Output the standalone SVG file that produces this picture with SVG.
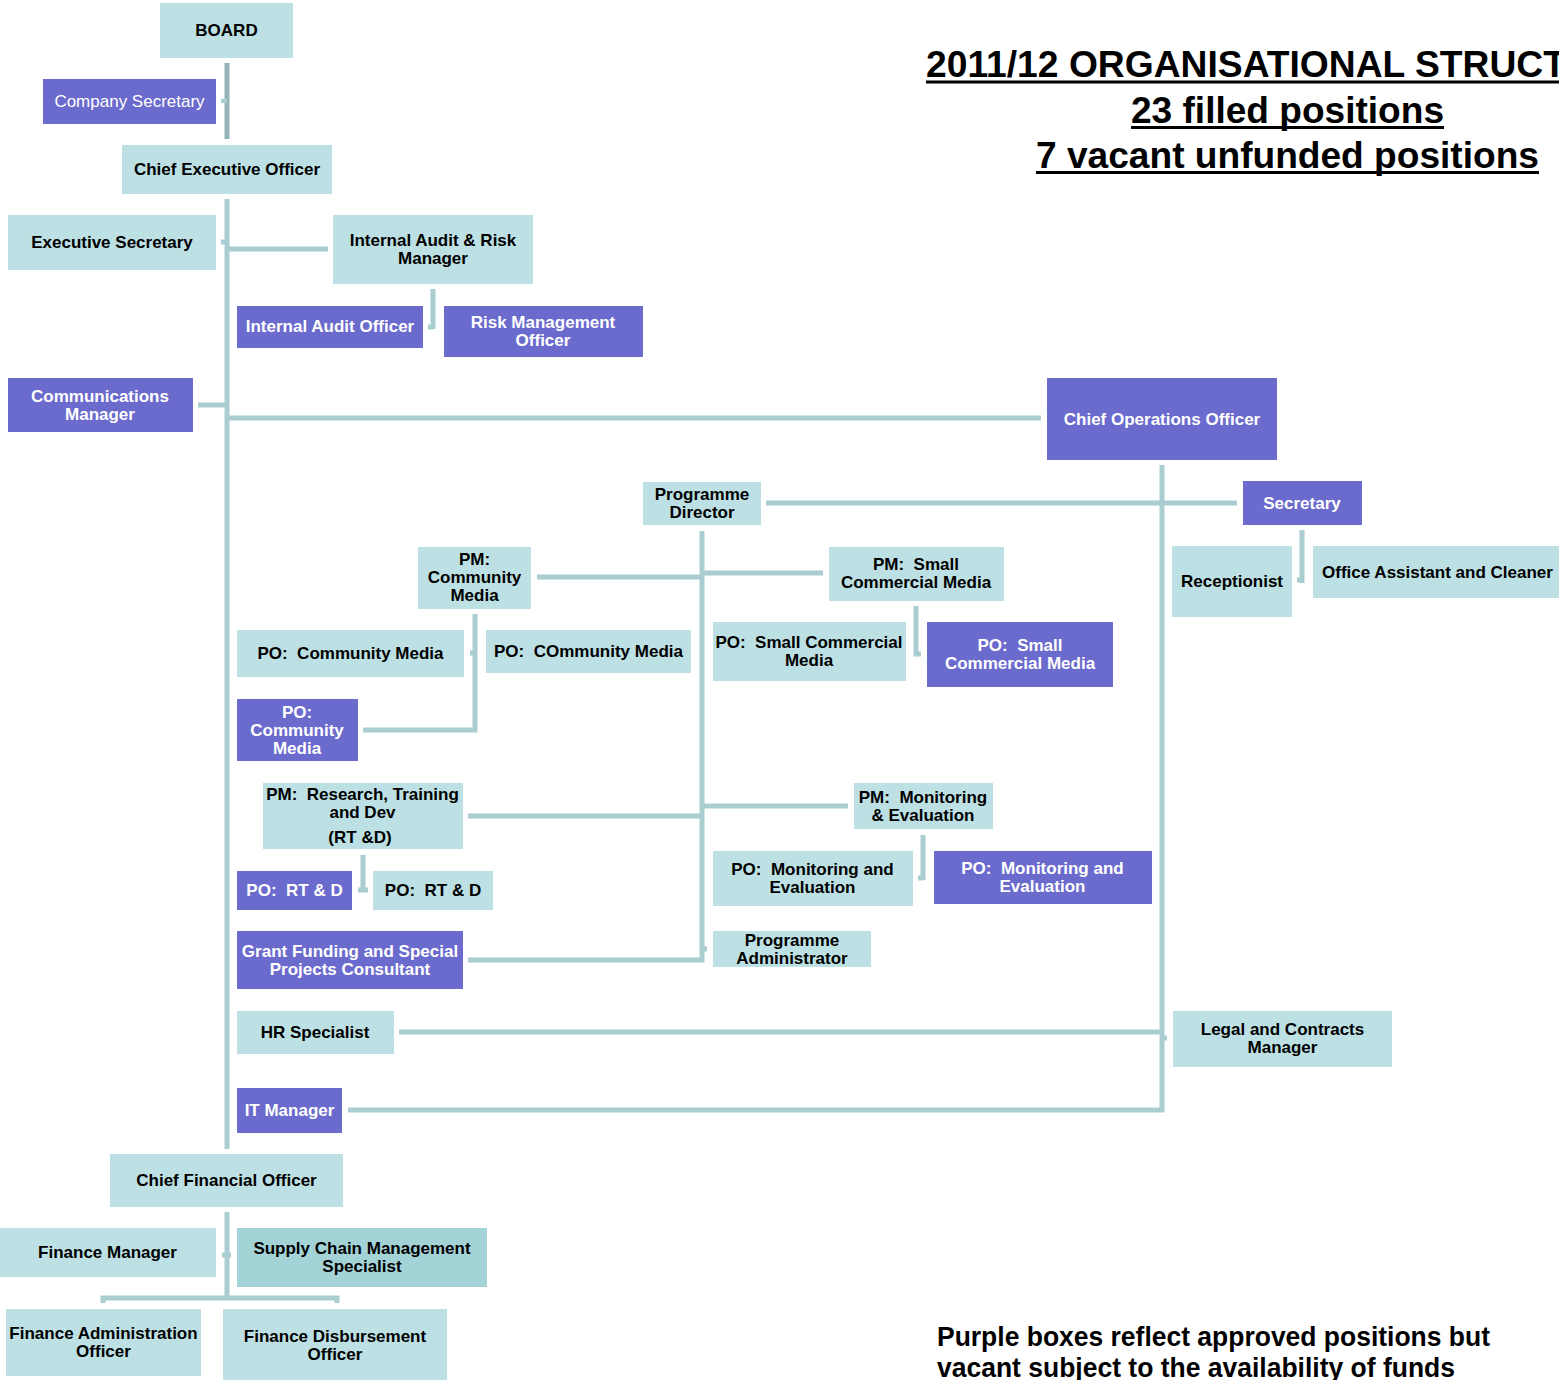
<svg xmlns="http://www.w3.org/2000/svg" width="1559" height="1380" viewBox="0 0 1559 1380">
<style>
.t{fill:#BCE0E3}
.p{fill:#6B6ACD}
.s{fill:#A3D3D7}
text{font-family:"Liberation Sans",Arial,sans-serif;font-weight:bold;font-size:17px;text-anchor:middle;white-space:pre}
.w{fill:#fff}
.k{fill:#000}
.reg{font-weight:normal}
.c{stroke:#A9CDD0;stroke-width:5;fill:none}
.h{font-family:"Liberation Sans Narrow","Liberation Sans",Arial,sans-serif;text-anchor:start;fill:#000}
.h1{font-size:37px}
.h2{font-size:27px}
</style>
<rect width="1559" height="1380" fill="#fff"/>
<g id="connectors">
<line x1="227" y1="63" x2="227" y2="139" stroke="#93B3B6" stroke-width="5"/>
<line x1="221" y1="101" x2="227" y2="101" stroke="#A9CDD0" stroke-width="4"/>
<path class="c" d="M227,199V1149"/>
<path class="c" d="M221,242H227"/>
<path class="c" d="M227,249H328"/>
<path class="c" d="M433,289V329M433,327H428"/>
<path class="c" d="M198,405H227"/>
<path class="c" d="M227,418H1041"/>
<path class="c" d="M1162,465V1110H348"/>
<path class="c" d="M399,1032H1162M1162,1038H1167"/>
<path class="c" d="M766,503H1237"/>
<path class="c" d="M702,531V960H468M702,949H707"/>
<path class="c" d="M537,577H702"/>
<path class="c" d="M702,573H823"/>
<path class="c" d="M475,614V730H363M470,653H475"/>
<path class="c" d="M916,606V654H921"/>
<path class="c" d="M468,816H702"/>
<path class="c" d="M702,806H848"/>
<path class="c" d="M363,855V891M358,890H368"/>
<path class="c" d="M923,835V880M918,878H923"/>
<path class="c" d="M1302,530V583M1297,580H1302"/>
<path class="c" d="M227,1212V1298M222,1255H231"/>
<path class="c" d="M103,1303V1298H337V1303"/>
</g>
<g id="board"><rect class="t" x="160" y="3" width="133" height="55"/><text class="k" x="226.5" y="36">BOARD</text></g>
<g id="company-secretary"><rect class="p" x="43" y="79" width="173" height="45"/><text class="w reg" x="129.5" y="107">Company Secretary</text></g>
<g id="ceo"><rect class="t" x="122" y="145" width="210" height="49"/><text class="k" x="227" y="175">Chief Executive Officer</text></g>
<g id="exec-secretary"><rect class="t" x="8" y="215" width="208" height="55"/><text class="k" x="112" y="248">Executive Secretary</text></g>
<g id="ia-risk-manager"><rect class="t" x="333" y="215" width="200" height="69"/><text class="k" x="433" y="246">Internal Audit &amp; Risk</text><text class="k" x="433" y="264">Manager</text></g>
<g id="internal-audit-officer"><rect class="p" x="237" y="306" width="186" height="42"/><text class="w" x="330" y="332">Internal Audit Officer</text></g>
<g id="risk-management-officer"><rect class="p" x="444" y="306" width="199" height="51"/><text class="w" x="543" y="328">Risk Management</text><text class="w" x="543" y="346">Officer</text></g>
<g id="communications-manager"><rect class="p" x="8" y="378" width="185" height="54"/><text class="w" x="100" y="402">Communications</text><text class="w" x="100" y="420">Manager</text></g>
<g id="coo"><rect class="p" x="1047" y="378" width="230" height="82"/><text class="w" x="1162" y="425">Chief Operations Officer</text></g>
<g id="programme-director"><rect class="t" x="643" y="482" width="118" height="43"/><text class="k" x="702" y="500">Programme</text><text class="k" x="702" y="518">Director</text></g>
<g id="secretary"><rect class="p" x="1243" y="481" width="119" height="44"/><text class="w" x="1302" y="509">Secretary</text></g>
<g id="pm-community-media"><rect class="t" x="418" y="547" width="113" height="62"/><text class="k" x="474.5" y="565">PM:</text><text class="k" x="474.5" y="583">Community</text><text class="k" x="474.5" y="601">Media</text></g>
<g id="pm-small-commercial-media"><rect class="t" x="829" y="547" width="175" height="54"/><text class="k" x="916" y="570">PM:  Small</text><text class="k" x="916" y="588">Commercial Media</text></g>
<g id="receptionist"><rect class="t" x="1172" y="546" width="120" height="71"/><text class="k" x="1232" y="587">Receptionist</text></g>
<g id="office-assistant"><rect class="t" x="1313" y="546" width="250" height="52"/><text class="k" x="1437.5" y="578">Office Assistant and Cleaner</text></g>
<g id="po-community-media-1"><rect class="t" x="237" y="630" width="227" height="47"/><text class="k" x="350.5" y="659">PO:  Community Media</text></g>
<g id="po-community-media-2"><rect class="t" x="486" y="630" width="205" height="43"/><text class="k" x="588.5" y="657">PO:  COmmunity Media</text></g>
<g id="po-small-commercial-1"><rect class="t" x="713" y="622" width="193" height="59"/><text class="k" x="809" y="648">PO:  Small Commercial</text><text class="k" x="809" y="666">Media</text></g>
<g id="po-small-commercial-2"><rect class="p" x="927" y="622" width="186" height="65"/><text class="w" x="1020" y="651">PO:  Small</text><text class="w" x="1020" y="669">Commercial Media</text></g>
<g id="po-community-media-3"><rect class="p" x="237" y="699" width="121" height="62"/><text class="w" x="297" y="718">PO:</text><text class="w" x="297" y="736">Community</text><text class="w" x="297" y="754">Media</text></g>
<g id="pm-rtd"><rect class="t" x="263" y="783" width="200" height="66"/><text class="k" x="362.5" y="800">PM:  Research, Training</text><text class="k" x="362.5" y="818">and Dev</text><text class="k" x="360" y="843">(RT &amp;D)</text></g>
<g id="pm-me"><rect class="t" x="854" y="783" width="139" height="46"/><text class="k" x="923" y="803">PM:  Monitoring</text><text class="k" x="923" y="821">&amp; Evaluation</text></g>
<g id="po-rtd-1"><rect class="p" x="237" y="871" width="115" height="39"/><text class="w" x="294.5" y="896">PO:  RT &amp; D</text></g>
<g id="po-rtd-2"><rect class="t" x="373" y="871" width="120" height="39"/><text class="k" x="433" y="896">PO:  RT &amp; D</text></g>
<g id="po-me-1"><rect class="t" x="713" y="851" width="200" height="55"/><text class="k" x="812.5" y="875">PO:  Monitoring and</text><text class="k" x="812.5" y="893">Evaluation</text></g>
<g id="po-me-2"><rect class="p" x="934" y="851" width="218" height="53"/><text class="w" x="1042.5" y="874">PO:  Monitoring and</text><text class="w" x="1042.5" y="892">Evaluation</text></g>
<g id="grant-funding"><rect class="p" x="237" y="931" width="226" height="58"/><text class="w" x="350" y="957">Grant Funding and Special</text><text class="w" x="350" y="975">Projects Consultant</text></g>
<g id="programme-administrator"><rect class="t" x="713" y="931" width="158" height="36"/><text class="k" x="792" y="946">Programme</text><text class="k" x="792" y="964">Administrator</text></g>
<g id="hr-specialist"><rect class="t" x="237" y="1011" width="157" height="43"/><text class="k" x="315" y="1038">HR Specialist</text></g>
<g id="legal-contracts"><rect class="t" x="1173" y="1011" width="219" height="56"/><text class="k" x="1282.5" y="1035">Legal and Contracts</text><text class="k" x="1282.5" y="1053">Manager</text></g>
<g id="it-manager"><rect class="p" x="237" y="1088" width="105" height="45"/><text class="w" x="289.5" y="1116">IT Manager</text></g>
<g id="cfo"><rect class="t" x="110" y="1154" width="233" height="53"/><text class="k" x="226.5" y="1186">Chief Financial Officer</text></g>
<g id="finance-manager"><rect class="t" x="0" y="1228" width="216" height="49"/><text class="k" x="107.5" y="1258">Finance Manager</text></g>
<g id="supply-chain"><rect class="s" x="237" y="1228" width="250" height="59"/><text class="k" x="362" y="1254">Supply Chain Management</text><text class="k" x="362" y="1272">Specialist</text></g>
<g id="finance-admin"><rect class="t" x="6" y="1309" width="195" height="67"/><text class="k" x="103.5" y="1339">Finance Administration</text><text class="k" x="103.5" y="1357">Officer</text></g>
<g id="finance-disbursement"><rect class="t" x="223" y="1309" width="224" height="71"/><text class="k" x="335" y="1342">Finance Disbursement</text><text class="k" x="335" y="1360">Officer</text></g>
<g id="title">
<text class="h h1" x="926" y="77" textLength="640" lengthAdjust="spacingAndGlyphs">2011/12 ORGANISATIONAL STRUCT</text>
<rect x="926" y="80.5" width="640" height="3" fill="#000"/>
<text class="h h1" x="1131" y="123" textLength="313" lengthAdjust="spacingAndGlyphs">23 filled positions</text>
<rect x="1131" y="126" width="313" height="3" fill="#000"/>
<text class="h h1" x="1036" y="168" textLength="503" lengthAdjust="spacingAndGlyphs">7 vacant unfunded positions</text>
<rect x="1036" y="171" width="503" height="3" fill="#000"/>
</g>
<g id="note">
<text class="h h2" x="937" y="1346" textLength="553" lengthAdjust="spacingAndGlyphs">Purple boxes reflect approved positions but</text>
<text class="h h2" x="937" y="1377" textLength="518" lengthAdjust="spacingAndGlyphs">vacant subject to the availability of funds</text>
</g>
</svg>
